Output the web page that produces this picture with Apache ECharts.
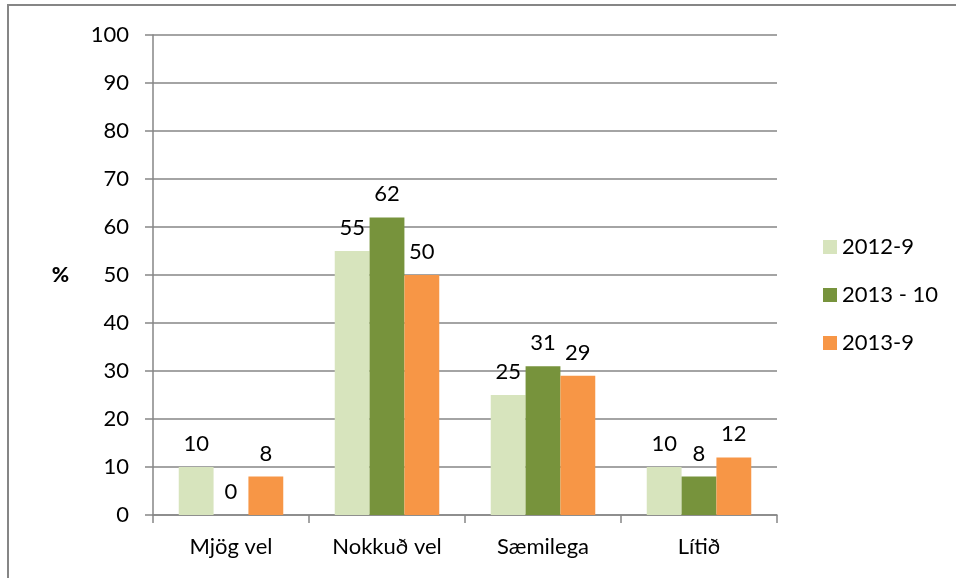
<!DOCTYPE html>
<html>
<head>
<meta charset="utf-8">
<script src="https://cdn.jsdelivr.net/npm/echarts@6/dist/echarts.min.js"></script>
<style>
  html, body { margin: 0; padding: 0; background: #fff; }
  #chart { width: 956px; height: 578px; }
</style>
</head>
<body>
<div id="chart"></div>
<script>
// categories and series
var categories = ['Mjög vel', 'Nokkuð vel', 'Sæmilega', 'Lítið'];
var seriesNames = ['2012-9', '2013 - 10', '2013-9'];
var s2012_9 = [10, 55, 25, 10];
var s2013_10 = [0, 62, 31, 8];
var s2013_9 = [8, 50, 29, 12];
var colors = ['#d7e4bd', '#77933c', '#f79646'];

var font = 'Lato, "Open Sans", sans-serif';
var chart = echarts.init(document.getElementById('chart'));

function bar(name, data, color) {
  return {
    name: name,
    type: 'bar',
    data: data,
    barGap: 0,
    barCategoryGap: '33%',
    itemStyle: { color: color },
    label: {
      show: true,
      position: 'top',
      distance: 12,
      color: '#000',
      fontFamily: font,
      fontSize: 22
    }
  };
}

var option = {
  backgroundColor: '#fff',
  animation: false,
  grid: { left: 153, right: 179, top: 35, bottom: 63 },
  graphic: [{
    type: 'rect',
    shape: { x: 8, y: 5, width: 960, height: 600 },
    style: { fill: 'none', stroke: '#868686', lineWidth: 2 }
  }],
  legend: {
    orient: 'vertical',
    left: 818,
    top: 231,
    itemWidth: 14,
    itemHeight: 14,
    itemGap: 26,
    icon: 'rect',
    textStyle: { fontFamily: font, fontSize: 22, color: '#000' },
    data: seriesNames
  },
  xAxis: {
    type: 'category',
    data: categories,
    axisLine: { lineStyle: { color: '#868686', width: 1.5 } },
    axisTick: { show: true, length: 8, lineStyle: { color: '#868686', width: 1.5 } },
    axisLabel: { color: '#000', fontFamily: font, fontSize: 22, margin: 21 }
  },
  yAxis: {
    type: 'value',
    min: 0,
    max: 100,
    interval: 10,
    name: '%',
    nameLocation: 'middle',
    nameRotate: 0,
    nameGap: 84,
    nameTextStyle: { color: '#000', fontFamily: font, fontSize: 21, fontWeight: 900 },
    axisLine: { show: true, lineStyle: { color: '#868686', width: 1.5 } },
    axisTick: { show: true, length: 8, lineStyle: { color: '#868686', width: 1.5 } },
    axisLabel: { color: '#000', fontFamily: font, fontSize: 22, margin: 24 },
    splitLine: { lineStyle: { color: '#868686', width: 1.5 } }
  },
  series: [
    bar(seriesNames[0], s2012_9, colors[0]),
    bar(seriesNames[1], s2013_10, colors[1]),
    bar(seriesNames[2], s2013_9, colors[2])
  ]
};
chart.setOption(option);
</script>
</body>
</html>
